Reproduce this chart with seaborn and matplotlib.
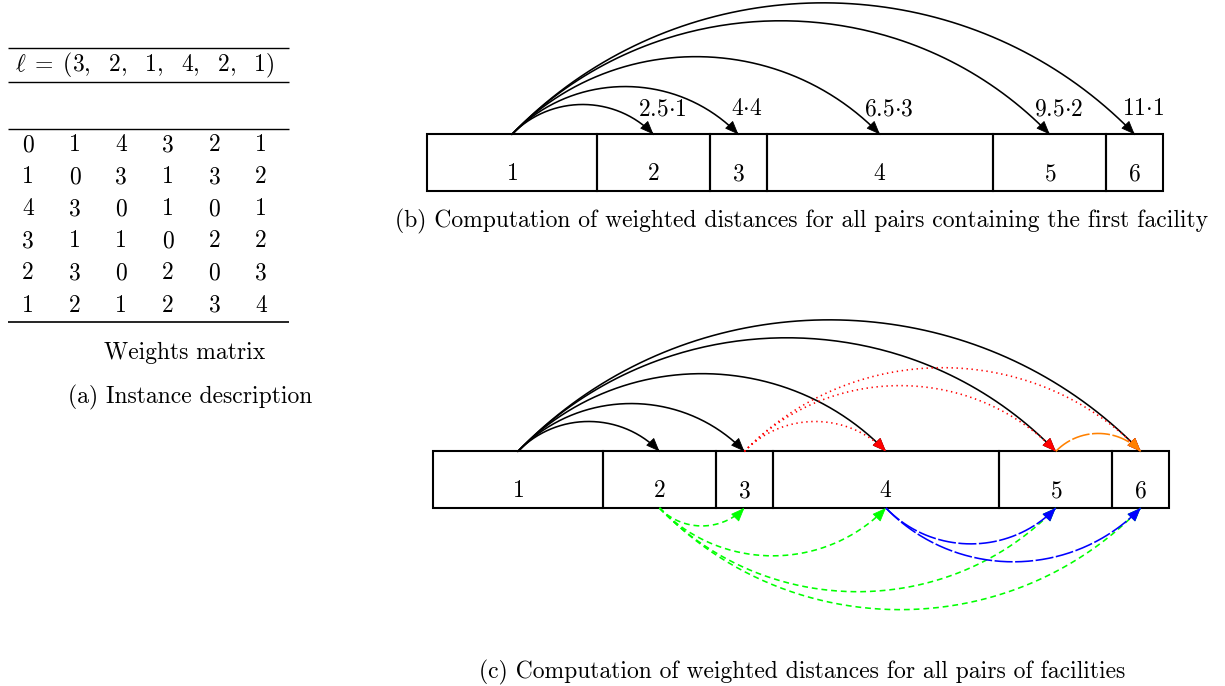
import numpy as np
import matplotlib
matplotlib.use("Agg")
import matplotlib.pyplot as plt
import seaborn as sns
from matplotlib.patches import FancyArrowPatch, Rectangle

# ---------------- data ----------------
lengths = [3, 2, 1, 4, 2, 1]
facilities = ["1", "2", "3", "4", "5", "6"]
weights = [
    [0, 1, 4, 3, 2, 1],
    [1, 0, 3, 1, 3, 2],
    [4, 3, 0, 1, 0, 1],
    [3, 1, 1, 0, 2, 2],
    [2, 3, 0, 2, 0, 3],
    [1, 2, 1, 2, 3, 4],
]
# arc groups for panel (c): (source facility index, targets, colour, style, side)
arc_groups_c = [
    (0, [1, 2, 3, 4, 5], "black", "solid", "above"),
    (2, [3, 4, 5], "#ff0000", "dotted", "above"),
    (4, [5], "#ff8000", "longdash", "above"),
    (1, [2, 3, 4, 5], "#00ff00", "dashed", "below"),
    (3, [4, 5], "#0000ff", "longdash", "below"),
]
caption_a = "(a) Instance description"
caption_matrix = "Weights matrix"
caption_b = "(b) Computation of weighted distances for all pairs containing the first facility"
caption_c = "(c) Computation of weighted distances for all pairs of facilities"

# ---------------- style ----------------
sns.set_theme(style="white")
plt.rcParams["font.family"] = ["cmr10", "DejaVu Serif"]
plt.rcParams["mathtext.fontset"] = "cm"
plt.rcParams["axes.unicode_minus"] = False
plt.rcParams["lines.scale_dashes"] = False
plt.rcParams["text.color"] = "black"

FS = 17
W, H = 1225, 686
fig = plt.figure(figsize=(W / 100, H / 100), dpi=100)
fig.patch.set_facecolor("white")

dash_styles = {
    "solid": "-",
    "dotted": (0, (1.0, 2.6)),
    "dashed": (0, (4.2, 2.8)),
    "longdash": (0, (13, 1.8)),
}

starts = np.concatenate([[0], np.cumsum(lengths)[:-1]])
centers = starts + np.array(lengths) / 2.0
total = float(np.sum(lengths))


def panel_axes(x0_px, y0_px, unit, xlim, ylim):
    left = x0_px + xlim[0] * unit
    right = x0_px + xlim[1] * unit
    bot = y0_px - ylim[0] * unit
    top = y0_px - ylim[1] * unit
    ax = fig.add_axes([left / W, 1 - bot / H, (right - left) / W, (bot - top) / H])
    ax.set_xlim(xlim)
    ax.set_ylim(ylim)
    ax.axis("off")
    return ax


def bezier(p0, p3, side, theta=46.0, n=160):
    p0 = np.asarray(p0, float)
    p3 = np.asarray(p3, float)
    d = abs(p3[0] - p0[0])
    c = 0.3915 * d
    th = np.radians(theta)
    s = 1.0 if side == "above" else -1.0
    p1 = p0 + np.array([c * np.cos(th), s * c * np.sin(th)])
    p2 = p3 + np.array([-c * np.cos(th), s * c * np.sin(th)])
    t = np.linspace(0, 1, n)[:, None]
    pts = (1 - t) ** 3 * p0 + 3 * (1 - t) ** 2 * t * p1 + 3 * (1 - t) * t ** 2 * p2 + t ** 3 * p3
    tang = (p3 - p2) / np.linalg.norm(p3 - p2)
    return pts, tang


def draw_arc(ax, i, j, color, style, side, zorder=3):
    y = 1.0 if side == "above" else 0.0
    pts, tang = bezier((centers[i], y), (centers[j], y), side)
    sns.lineplot(x=pts[:, 0], y=pts[:, 1], sort=False, estimator=None, ax=ax,
                 color=color, linestyle=dash_styles[style], lw=1.15, zorder=zorder,
                 clip_on=False)
    end = pts[-1]
    head = FancyArrowPatch(posA=tuple(end - tang * 0.05), posB=tuple(end),
                           arrowstyle="-|>,head_length=0.6,head_width=0.24",
                           mutation_scale=14.5, color=color, lw=0.6,
                           shrinkA=0, shrinkB=0, zorder=zorder + 0.5, clip_on=False)
    ax.add_patch(head)


def draw_boxes(ax):
    for s, L, name, cx in zip(starts, lengths, facilities, centers):
        ax.add_patch(Rectangle((s, 0), L, 1, fill=False, ec="black", lw=1.5, zorder=2))
        ax.text(cx, 0.19, r"$\mathrm{" + name + r"}$", ha="center", va="baseline",
                fontsize=FS, zorder=5)


unit = 736.0 / total

# ---------------- background axes (pixel coordinates) ----------------
bg = fig.add_axes([0, 0, 1, 1])
bg.set_xlim(0, W)
bg.set_ylim(H, 0)
bg.axis("off")

# panel (a)
rule_x = (8, 289)
for yr, lw in [(48, 1.0), (82, 1.0), (129, 1.0), (322, 1.2)]:
    bg.plot(rule_x, (yr, yr), color="black", lw=lw, solid_capstyle="butt")
ell_txt = r"$\ell\;=\;(" + r",\ \ ".join(str(v) for v in lengths) + r")$"
bg.text(145, 65, ell_txt, ha="center", va="center", fontsize=FS)
col_x0, col_dx = 28, 46.6
row_y0, row_dy = 145, 32.1
for r, row in enumerate(weights):
    for c, v in enumerate(row):
        bg.text(col_x0 + c * col_dx, row_y0 + r * row_dy, str(v),
                ha="center", va="center", fontsize=FS)
bg.text(185, 353, caption_matrix, ha="center", va="center", fontsize=FS)
bg.text(190, 397, caption_a, ha="center", va="center", fontsize=FS)
bg.text(802, 221, caption_b, ha="center", va="center", fontsize=FS)
bg.text(802, 672, caption_c, ha="center", va="center", fontsize=FS)

# ---------------- panel (b) ----------------
axb = panel_axes(427, 191, unit, (-0.3, total + 0.3), (-0.3, 2.9))
draw_boxes(axb)
for j in range(1, len(lengths)):
    draw_arc(axb, 0, j, "black", "solid", "above")
    dist = centers[j] - centers[0]
    dtxt = ("%g" % dist)
    lbl = r"$" + dtxt + r"{\cdot}" + str(weights[0][j]) + r"$"
    axb.text(centers[j] + 0.15, 1.34, lbl, ha="center", va="baseline", fontsize=FS, zorder=6)

# ---------------- panel (c) ----------------
axc = panel_axes(433, 508, unit, (-0.3, total + 0.3), (-2.0, 2.9))
draw_boxes(axc)
for z, (src, tgts, col, sty, side) in enumerate(arc_groups_c):
    for j in tgts:
        draw_arc(axc, src, j, col, sty, side, zorder=3 + z)

fig.savefig("out.png", dpi=100, facecolor="white")
